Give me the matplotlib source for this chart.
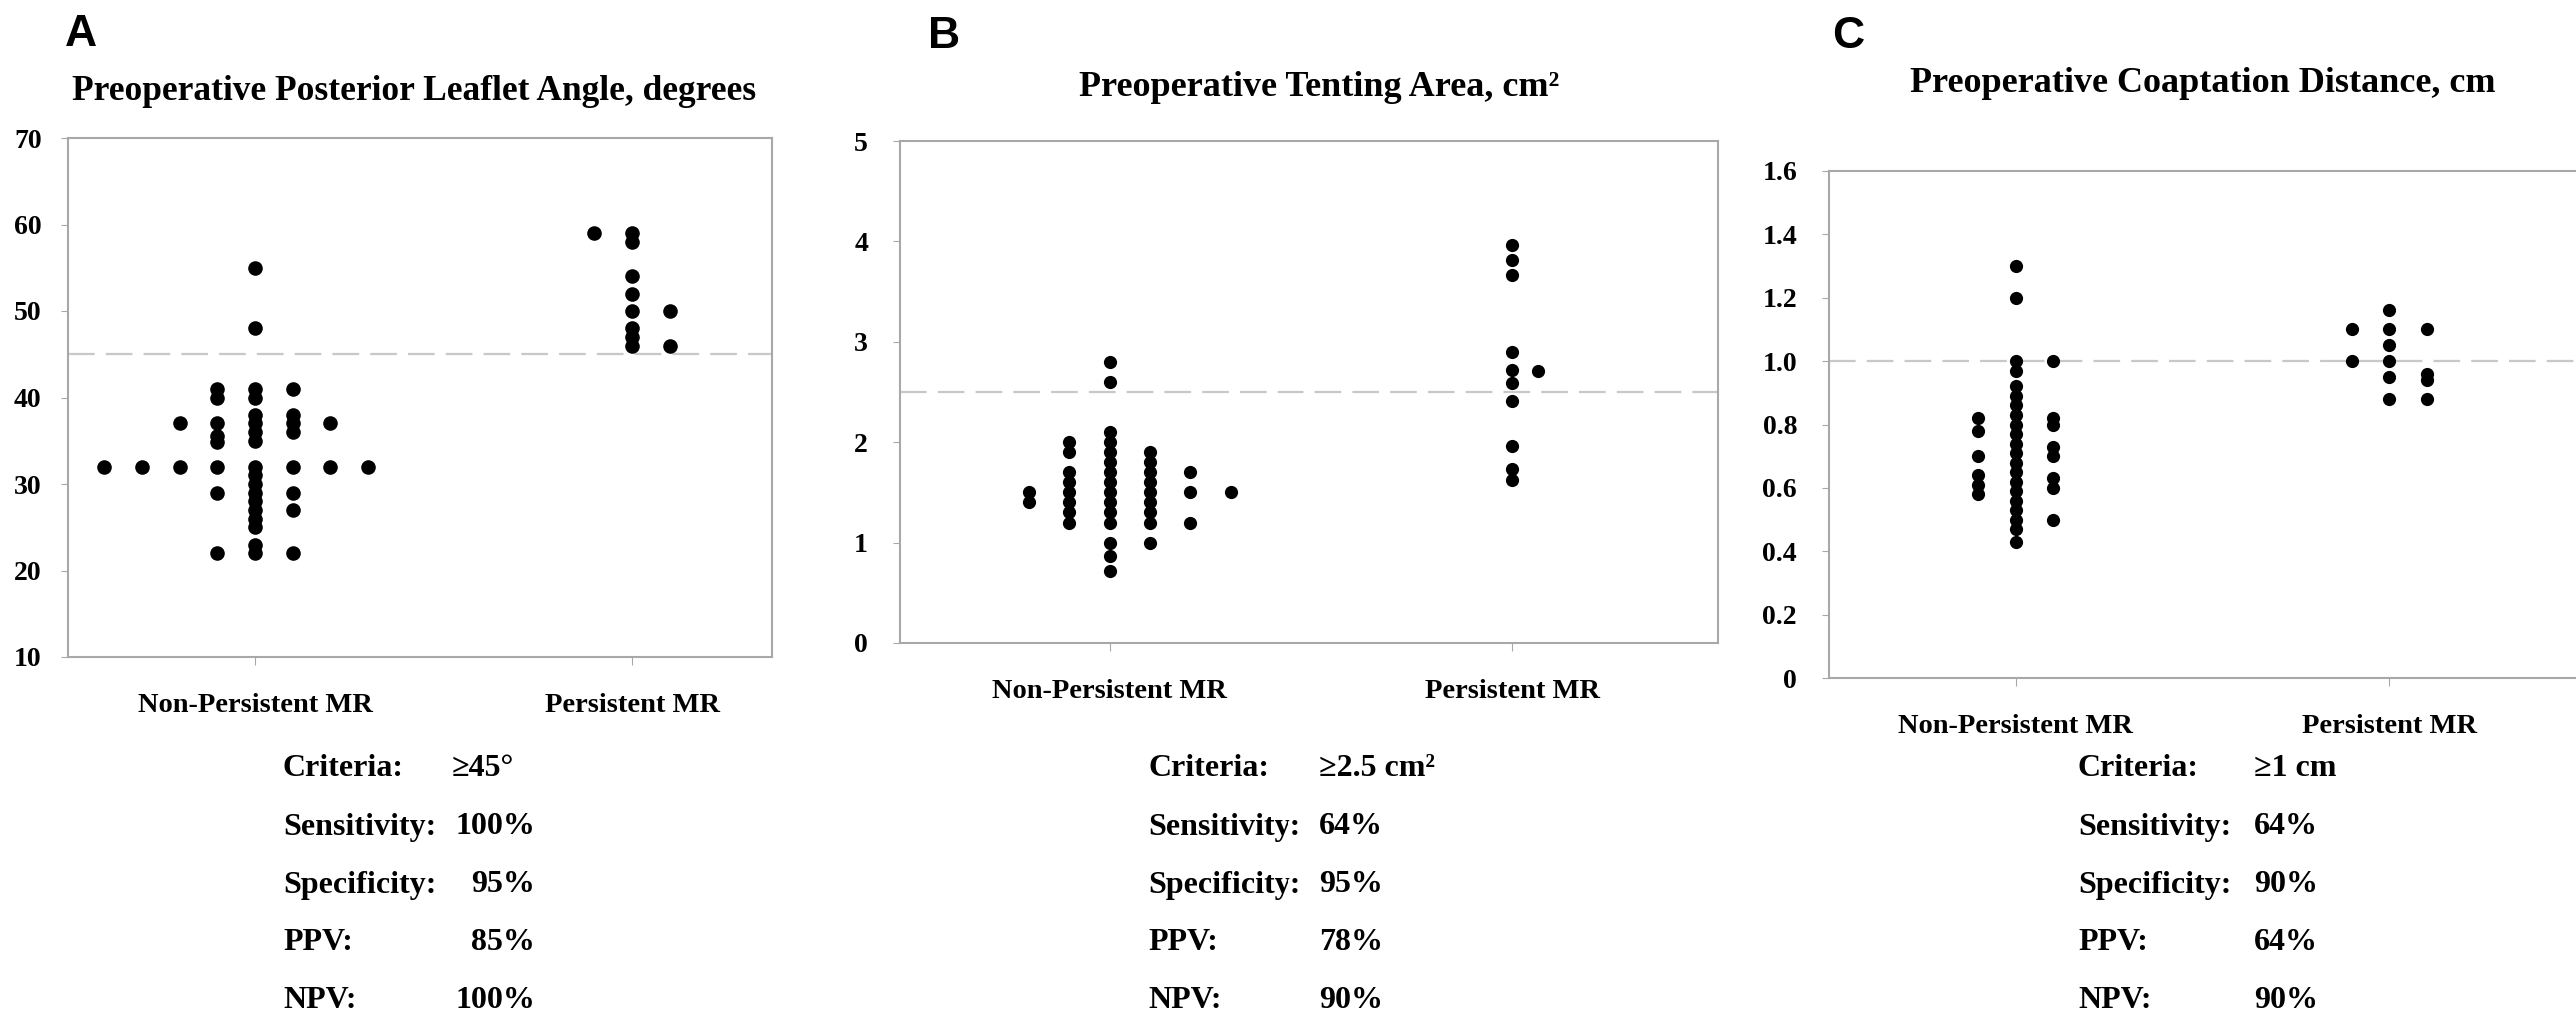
import matplotlib
matplotlib.use('Agg')
import matplotlib.pyplot as plt

plt.rcParams['font.family'] = ['Liberation Serif', 'DejaVu Serif']
plt.rcParams['font.weight'] = 'bold'

categories = ['Non-Persistent MR', 'Persistent MR']

# panel A: posterior leaflet angle, one list per dot column (column steps from the category centre)
a_non_steps = [-4, -3, -2, -1, 0, 1, 2, 3]
a_non_cols = [
    [32],
    [32],
    [37, 32],
    [41, 40, 37, 35.5, 34.8, 32, 29, 22],
    [55, 48, 41, 40, 38, 37, 36, 35, 32, 31, 30, 29, 28, 27, 26, 25, 23, 22],
    [41, 38, 37, 36, 32, 29, 27, 22],
    [37, 32],
    [32],
]
a_per_steps = [-1, 0, 1]
a_per_cols = [
    [59],
    [59, 58, 54, 52, 50, 48, 47, 46],
    [50, 46],
]

# panel B: tenting area
b_non_steps = [-2, -1, 0, 1, 2, 3]
b_non_cols = [
    [1.5, 1.4],
    [2.0, 1.9, 1.7, 1.6, 1.5, 1.4, 1.3, 1.2],
    [2.8, 2.6, 2.1, 2.0, 1.9, 1.8, 1.7, 1.6, 1.5, 1.4, 1.3, 1.2, 1.0, 0.87, 0.72],
    [1.9, 1.8, 1.7, 1.6, 1.5, 1.4, 1.3, 1.2, 1.0],
    [1.7, 1.5, 1.2],
    [1.5],
]
b_per_steps = [0, 0.65]
b_per_cols = [
    [3.96, 3.81, 3.67, 2.90, 2.72, 2.59, 2.41, 1.96, 1.73, 1.62],
    [2.71],
]

# panel C: coaptation distance
c_non_steps = [-1, 0, 1]
c_non_cols = [
    [0.82, 0.78, 0.70, 0.64, 0.61, 0.58],
    [1.30, 1.20, 1.00, 0.97, 0.92, 0.89, 0.86, 0.83, 0.80, 0.77, 0.74, 0.71,
     0.68, 0.65, 0.62, 0.59, 0.56, 0.53, 0.50, 0.47, 0.43],
    [1.00, 0.82, 0.80, 0.73, 0.70, 0.63, 0.60, 0.50],
]
c_per_steps = [-1, 0, 1]
c_per_cols = [
    [1.10, 1.00],
    [1.16, 1.10, 1.05, 1.00, 0.95, 0.88],
    [1.10, 0.96, 0.94, 0.88],
]

thresholds = [45, 2.5, 1.0]
titles = ['Preoperative Posterior Leaflet Angle, degrees',
          'Preoperative Tenting Area, cm²',
          'Preoperative Coaptation Distance, cm']
stat_names = ['Criteria:', 'Sensitivity:', 'Specificity:', 'PPV:', 'NPV:']
a_stats = ['≥45°', '100%', '95%', '85%', '100%']
b_stats = ['≥2.5 cm²', '64%', '95%', '78%', '90%']
c_stats = ['≥1 cm', '64%', '90%', '64%', '90%']

W, H = 2577, 1017
fig = plt.figure(figsize=(W / 100, H / 100), dpi=100)


def box(l, t, r, b):
    return [l / W, 1 - b / H, (r - l) / W, (b - t) / H]


def dots(ax, cat, steps, cols, ms):
    for s, col in zip(steps, cols):
        ax.plot([cat + 0.1 * s] * len(col), col, 'o', color='black', ms=ms, mew=0)


def style(ax, ylim, yticks, ylabels, xlim, thr, pad_y):
    ax.set_xlim(*xlim)
    ax.set_ylim(*ylim)
    ax.set_yticks(yticks, ylabels)
    ax.set_xticks([1, 2], categories)
    for sp in ax.spines.values():
        sp.set_color('#a8a8a8')
        sp.set_linewidth(1.5)
    ax.tick_params(axis='y', length=5, color='#a8a8a8', labelsize=20, pad=pad_y)
    ax.tick_params(axis='x', length=6, color='#a8a8a8', labelsize=20.5, pad=20)
    ax.axhline(thr, color='#c8c8c8', lw=1.6, dashes=(12, 5), zorder=0)


axA = fig.add_axes(box(68, 138, 772, 657))
dots(axA, 1, a_non_steps, a_non_cols, 10.5)
dots(axA, 2, a_per_steps, a_per_cols, 10.5)
style(axA, (10, 70), range(10, 71, 10), [str(v) for v in range(10, 71, 10)],
      (0.504, 2.371), thresholds[0], 14)

axB = fig.add_axes(box(900, 141, 1719, 643))
dots(axB, 1, b_non_steps, b_non_cols, 9.5)
dots(axB, 2, b_per_steps, b_per_cols, 9.5)
style(axB, (0, 5), range(0, 6), [str(v) for v in range(0, 6)],
      (0.48, 2.51), thresholds[1], 18)

axC = fig.add_axes(box(1830, 171, 2577, 678))
dots(axC, 1, c_non_steps, c_non_cols, 9.5)
dots(axC, 2, c_per_steps, c_per_cols, 9.5)
c_ticks = [0, 0.2, 0.4, 0.6, 0.8, 1.0, 1.2, 1.4, 1.6]
style(axC, (0, 1.6), c_ticks, ['0'] + ['%.1f' % v for v in c_ticks[1:]],
      (0.5, 2.5), thresholds[2], 18)
axC.spines['right'].set_visible(False)

# panel letters and titles
for x, y, letter in [(65, 34, 'A'), (928, 37, 'B'), (1833, 37, 'C')]:
    fig.text(x / W, 1 - y / H, letter, family='Liberation Sans', weight='bold',
             fontsize=32, va='center', ha='left')
fig.text(72 / W, 1 - 91 / H, titles[0], fontsize=25.5, ha='left', va='center')
fig.text(1320 / W, 1 - 88 / H, titles[1], fontsize=26, ha='center', va='center')
fig.text(2204 / W, 1 - 84 / H, titles[2], fontsize=26, ha='center', va='center')

# criteria tables under each panel
rows_y = [768, 827, 885, 943, 1001]
for i, (name, y) in enumerate(zip(stat_names, rows_y)):
    fy = 1 - y / H
    fig.text(283 / W, fy, name, fontsize=23, va='center')
    if i == 0:
        fig.text(452 / W, fy, a_stats[i], fontsize=23, va='center')
    else:
        fig.text(535 / W, fy, a_stats[i], fontsize=23, va='center', ha='right')
    fig.text(1148 / W, fy, name, fontsize=23, va='center')
    fig.text(1320 / W, fy, b_stats[i], fontsize=23, va='center')
    fig.text(2079 / W, fy, name, fontsize=23, va='center')
    fig.text(2255 / W, fy, c_stats[i], fontsize=23, va='center')

fig.savefig('out.png', dpi=100)
